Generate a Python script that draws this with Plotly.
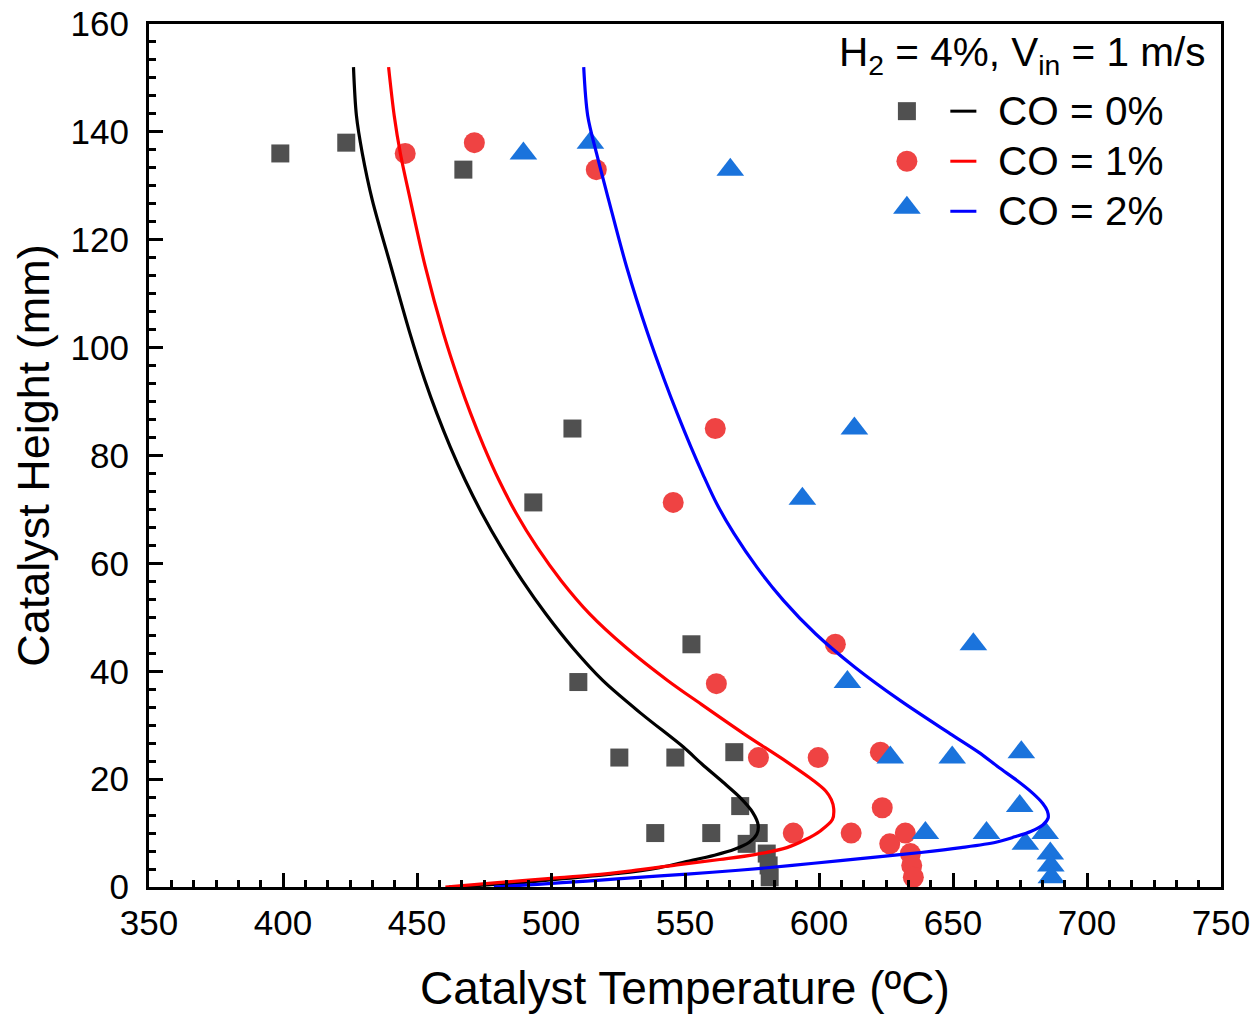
import plotly.graph_objects as go

# ---- measured catalyst temperatures (markers) ----
sq_T = [399, 423.6, 467.3, 508, 493.4, 552.4, 510.2, 525.5, 546.4, 568.4, 570.6, 538.9, 559.8, 577.5, 573.0, 580.5, 581.2, 581.6]
sq_H = [136, 138, 133, 85, 71.3, 45, 38, 24, 24, 25, 15, 10, 10, 10, 8, 6.2, 4, 1.8]

ci_T = [445.6, 471.4, 516.9, 561.3, 545.6, 606.1, 561.7, 577.4, 599.7, 622.9, 623.6, 590.4, 612, 632.2, 626.4, 634.1, 634.6, 635.2]
ci_H = [136, 138, 133, 85, 71.3, 45, 37.7, 24, 24, 25, 14.7, 10, 10, 10, 8, 6.2, 4, 1.8]

tr_T = [489.7, 514.7, 566.9, 613.2, 593.8, 657.6, 610.6, 626.6, 649.7, 675.5, 674.9, 639.7, 662.5, 684.4, 677, 686.3, 686.5, 686.7]
tr_H = [136, 138, 133, 85, 72, 45, 38, 24, 24, 25, 15, 10, 10, 10, 8, 6.2, 4, 1.8]

# ---- model temperature profiles (lines) ----
k_T = [426.3, 427.4, 429.6, 433.3, 440.3, 447.4, 452.9, 457.4, 462.4, 468.0, 474.3, 481.4, 489.3, 498.1,
       508.0, 519.3, 533.8, 549.5, 556.3, 564.0, 570.5, 575.3, 577.3, 576.8, 574.0, 568.5, 561.0, 550.5,
       540.5, 525.0, 503.5, 483.0, 462.0]
k_H = [152, 143, 136, 127.4, 115, 102.6, 94, 87.8, 81.6, 75.4, 69.2, 63, 56.8, 50.6,
       44.4, 38.3, 32.1, 25.9, 22.8, 19.5, 16.6, 13.8, 11.5, 9.8, 8.3, 7.0, 5.9, 4.7,
       3.6, 2.5, 1.5, 0.6, 0]

r_T = [439.4, 441.5, 443.8, 447.5, 453.1, 459.9, 465.5, 470.0, 475.0, 480.6, 487.1, 494.8, 503.8, 514.5,
       528.0, 543.5, 556.0, 572.0, 588.0, 598.0, 602.5, 604.6, 605.5, 605.0, 600.5, 595.0, 588.0, 576.0,
       563.0, 547.0, 530.0, 515.0, 500.0, 480.0, 460.6]
r_H = [152, 143, 136, 127.4, 115, 102.6, 94, 87.8, 81.6, 75.4, 69.2, 63, 56.8, 50.6,
       44.4, 38.3, 33.9, 28.4, 23.2, 19.7, 17.8, 16.2, 14.5, 12.5, 10.4, 8.8, 7.3, 6.0,
       5.1, 4.1, 3.0, 2.2, 1.6, 0.8, 0]

b_T = [512.2, 513.7, 517.0, 521.5, 528.2, 536.1, 542.3, 547.1, 552.2, 556.6, 561.9, 568.3, 576.8, 586.8,
       598.8, 613.5, 630.5, 649.0, 659.5, 667.0, 674.0, 679.5, 683.5, 685.2, 685.5, 683.5, 679.0, 673.0,
       666.0, 653.0, 638.0, 622.0, 608.0, 590.0, 570.0, 550.7, 530.0, 513.4, 495.0, 478.7]
b_H = [152, 143, 136, 127.4, 115, 102.6, 94, 87.8, 81.6, 76.6, 71, 65.5, 59.3, 53.1,
       46.9, 40.7, 34.5, 28.4, 25, 22.2, 19.7, 17.5, 15.5, 14.1, 12.8, 11.5, 10.3, 9.3,
       8.3, 7.3, 6.4, 5.6, 4.9, 4.0, 3.1, 2.4, 1.7, 1.1, 0.5, 0]

series_labels = ["CO = 0%", "CO = 1%", "CO = 2%"]
legend_title = "H<sub>2</sub> = 4%, V<sub>in</sub> = 1 m/s"

FONT = "Liberation Sans, Arial, sans-serif"
C_SQ, C_CI, C_TR = "#505050", "#EF4343", "#1A73DC"
C_K, C_R, C_B = "#000000", "#FF0000", "#0000FF"

fig = go.Figure()

# experimental markers
fig.add_trace(go.Scatter(x=sq_T, y=sq_H, mode="markers", opacity=1,
                         marker=dict(symbol="square", size=18, color=C_SQ, line=dict(width=0))))
fig.add_trace(go.Scatter(x=ci_T, y=ci_H, mode="markers", opacity=1,
                         marker=dict(symbol="circle", size=21, color=C_CI, line=dict(width=0))))
fig.add_trace(go.Scatter(x=tr_T, y=tr_H, mode="markers", opacity=1,
                         marker=dict(symbol="triangle-up", size=24, color=C_TR, line=dict(width=0))))

# model curves on top
for xs, ys, c in [(k_T, k_H, C_K), (r_T, r_H, C_R), (b_T, b_H, C_B)]:
    fig.add_trace(go.Scatter(x=xs, y=ys, mode="lines",
                             line=dict(color=c, width=3.2, shape="spline", smoothing=0.9)))

# legend block drawn in the axes' fractional space
leg_x_marker = 0.7070
leg_x_line0, leg_x_line1 = 0.7475, 0.7718
leg_x_text = 0.7905
leg_rows = [0.899, 0.841, 0.783]
leg_symbols = [("square", 18, C_SQ), ("circle", 21, C_CI), ("triangle-up", 24, C_TR)]
leg_lines = [C_K, C_R, C_B]

for yv, (sym, sz, col) in zip(leg_rows, leg_symbols):
    dy = 0.004 if sym == "triangle-up" else 0.0
    fig.add_trace(go.Scatter(x=[leg_x_marker], y=[yv + dy], mode="markers", opacity=1,
                             xaxis="x2", yaxis="y2",
                             marker=dict(symbol=sym, size=sz, color=col, opacity=1, line=dict(width=0))))

shapes = []
annotations = []
for yv, lc, lab in zip(leg_rows, leg_lines, series_labels):
    shapes.append(dict(type="line", xref="x domain", yref="y domain",
                       x0=leg_x_line0, x1=leg_x_line1, y0=yv, y1=yv,
                       line=dict(color=lc, width=3)))
    annotations.append(dict(xref="x domain", yref="y domain", x=leg_x_text, y=yv,
                            xanchor="left", yanchor="middle", showarrow=False,
                            text=lab, font=dict(family=FONT, size=40.5, color="black")))
annotations.append(dict(xref="x domain", yref="y domain", x=0.987, y=0.964,
                        xanchor="right", yanchor="middle", showarrow=False,
                        text=legend_title, font=dict(family=FONT, size=40.5, color="black")))

axis_common = dict(
    showline=True, linecolor="black", linewidth=3, mirror=True,
    ticks="inside", ticklen=14, tickwidth=2.5, tickcolor="black",
    showgrid=False, zeroline=False, automargin=False,
    tickfont=dict(family=FONT, size=35, color="black"),
)

fig.update_layout(
    width=1255, height=1016,
    margin=dict(l=149, r=34, t=24, b=129),
    paper_bgcolor="white", plot_bgcolor="white",
    showlegend=False,
    xaxis=dict(range=[350, 750], tick0=350, dtick=50, ticklabelstandoff=3,
               minor=dict(ticks="inside", ticklen=7, tickwidth=2.5, tickcolor="black",
                          tick0=350, dtick=50 / 6),
               title=dict(text="Catalyst Temperature (ºC)", standoff=31,
                          font=dict(family=FONT, size=46, color="black")),
               **axis_common),
    yaxis=dict(range=[0, 160], tick0=0, dtick=20, ticklabelstandoff=10,
               minor=dict(ticks="inside", ticklen=7, tickwidth=2.5, tickcolor="black",
                          tick0=0, dtick=20 / 6),
               title=dict(text="Catalyst Height (mm)", standoff=7,
                          font=dict(family=FONT, size=45, color="black")),
               **axis_common),
    xaxis2=dict(overlaying="x", range=[0, 1], visible=False),
    yaxis2=dict(overlaying="y", range=[0, 1], visible=False),
    shapes=shapes,
    annotations=annotations,
)

fig.write_html("out.html")
